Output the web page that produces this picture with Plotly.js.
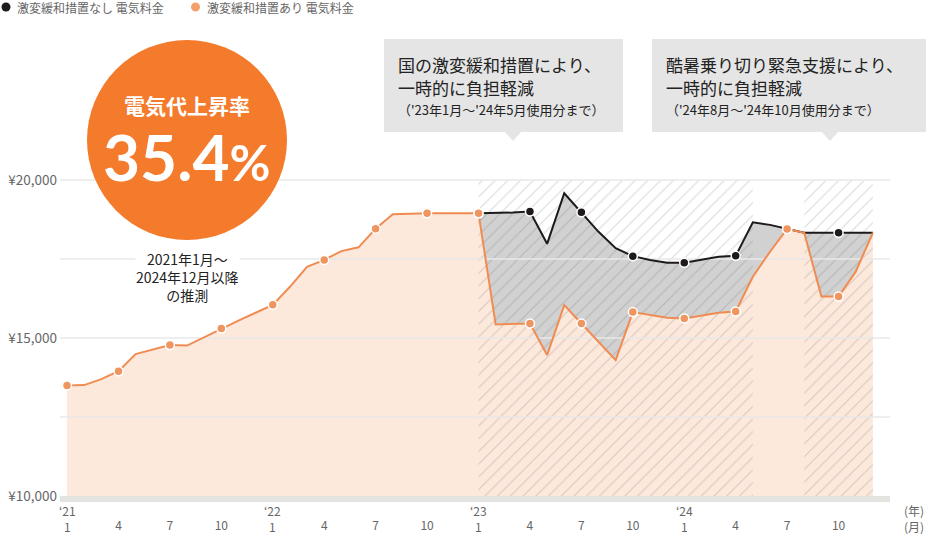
<!DOCTYPE html>
<html>
<head>
<meta charset="utf-8">
<script src="https://cdn.plot.ly/plotly-3.0.1.min.js"></script>
<style>
html,body{margin:0;padding:0;background:#fff;}
#chart{width:927px;height:534px;}
</style>
</head>
<body>
<div id="chart"></div>
<script>
// ---------- DATA ----------
// month index 0 = 2021年1月 ... 47 = 2024年12月
const monthIndex = Array.from({length: 48}, (_, i) => i);
const tickIndex = [0,3,6,9,12,15,18,21,24,27,30,33,36,39,42,45];
const tickMonthLabels = ['1','4','7','10','1','4','7','10','1','4','7','10','1','4','7','10'];
const yearIndex = [0, 12, 24, 36];
const yearLabels = ['‘21', '‘22', '‘23', '‘24'];

// 激変緩和措置あり 電気料金 (円)
const withRelief = [
  13500, 13510, 13700, 13950, 14490, 14640, 14780, 14760, 15030, 15300, 15550, 15800,
  16050, 16620, 17250, 17470, 17750, 17870, 18460, 18920, 18940, 18950, 18950, 18950,
  18950, 15430, 15440, 15460, 14460, 16040, 15460, 14880, 14300, 15820, 15730, 15640,
  15620, 15700, 15800, 15840, 16940, 17730, 18450, 18330, 16310, 16310, 17100, 18330
];
// 激変緩和措置なし 電気料金 (円) — only from 2023年1月
const withoutRelief = [
  null, null, null, null, null, null, null, null, null, null, null, null,
  null, null, null, null, null, null, null, null, null, null, null, null,
  18950, 18950, 18970, 19000, 17980, 19580, 18980, 18360, 17840, 17590, 17470, 17380,
  17380, 17470, 17570, 17600, 18660, 18580, 18450, 18330, 18330, 18330, 18330, 18330
];
// hatched relief periods (month index start / end)
const reliefStart = [24, 43];
const reliefEnd = [40, 47];

const yTickVals = [10000, 15000, 20000];
const yTickText = ['¥10,000', '¥15,000', '¥20,000'];
const gridVals = [12500, 15000, 17500, 20000];

// ---------- LAYOUT HELPERS ----------
const W = 927, H = 534;
const L = 60, R = 890, T = 170, B = 496;
const pxPerYen = 316 / 10000;
const yRange = [10000, 10000 + (B - T) / pxPerYen];
const xRange = [-0.41, 48.0];
const px = x => (x - L) / (R - L);
const py = y => (B - y) / (B - T);

const FONT = '"Noto Sans CJK JP", "Noto Sans", sans-serif';
const ORANGE = '#F08C52';
const ORANGE_DOT = '#EF9560';
const BLACK = '#1e1a1a';

// ---------- TRACES ----------
const idxB = monthIndex.filter(i => withoutRelief[i] !== null);

const hx = [], hy = [];
reliefStart.forEach((s, k) => {
  const e = reliefEnd[k];
  hx.push(s, e, e, s, s, null);
  hy.push(yTickVals[0], yTickVals[0], yTickVals[2], yTickVals[2], yTickVals[0], null);
});

const gx = [], gy = [];
gridVals.forEach(v => { gx.push(xRange[0], xRange[1], null); gy.push(v, v, null); });

const dotIdxO = tickIndex;
const dotIdxB = tickIndex.filter(i => withoutRelief[i] !== null);

// month tick labels: year-start months are drawn together with the year label
const tickTextShown = tickIndex.map((ti, k) => yearIndex.includes(ti) ? '' : tickMonthLabels[k]);

const traces = [
  { // orange area
    x: monthIndex, y: withRelief, type: 'scatter', mode: 'lines',
    line: {width: 0}, fill: 'tozeroy', fillcolor: '#FDE8DC', hoverinfo: 'skip', showlegend: false
  },
  { // base for grey gap
    x: idxB, y: idxB.map(i => withRelief[i]), type: 'scatter', mode: 'lines',
    line: {width: 0, color: 'rgba(0,0,0,0)'}, hoverinfo: 'skip', showlegend: false
  },
  { // grey gap
    x: idxB, y: idxB.map(i => withoutRelief[i]), type: 'scatter', mode: 'lines',
    line: {width: 0, color: 'rgba(0,0,0,0)'}, fill: 'tonexty', fillcolor: '#D1D1D1',
    hoverinfo: 'skip', showlegend: false
  },
  { // hatch
    x: hx, y: hy, type: 'scatter', mode: 'lines', line: {width: 0, color: 'rgba(0,0,0,0)'},
    fill: 'toself', fillcolor: 'rgba(0,0,0,0)',
    fillpattern: {shape: '/', fgcolor: 'rgba(80,80,80,0.22)', bgcolor: 'rgba(0,0,0,0)', size: 9, solidity: 0.12},
    hoverinfo: 'skip', showlegend: false
  },
  { // grid lines
    x: gx, y: gy, type: 'scatter', mode: 'lines', line: {width: 1.5, color: '#e9e9e9'},
    hoverinfo: 'skip', showlegend: false
  },
  { // black line
    x: idxB, y: idxB.map(i => withoutRelief[i]), type: 'scatter', mode: 'lines',
    line: {width: 2, color: BLACK}, showlegend: false
  },
  { // orange line
    x: monthIndex, y: withRelief, type: 'scatter', mode: 'lines',
    line: {width: 2, color: ORANGE}, showlegend: false
  },
  { // black dots
    x: dotIdxB, y: dotIdxB.map(i => withoutRelief[i]), type: 'scatter', mode: 'markers',
    marker: {size: 9, color: BLACK, line: {width: 1.5, color: '#fff'}}, showlegend: false
  },
  { // orange dots
    x: dotIdxO, y: dotIdxO.map(i => withRelief[i]), type: 'scatter', mode: 'markers',
    marker: {size: 9, color: ORANGE_DOT, line: {width: 1.5, color: '#fff'}}, showlegend: false
  }
];

// ---------- SHAPES & ANNOTATIONS ----------
const shapes = [
  // big circle
  {type: 'circle', xref: 'paper', yref: 'paper', x0: px(87), x1: px(287), y0: py(240), y1: py(40),
   fillcolor: '#F47A2C', line: {width: 0}, layer: 'above'},
  // callout box 1
  {type: 'rect', xref: 'paper', yref: 'paper', x0: px(384), x1: px(623), y0: py(132), y1: py(39),
   fillcolor: '#E5E5E5', line: {width: 0}, layer: 'above'},
  {type: 'path', xref: 'paper', yref: 'paper', layer: 'above', fillcolor: '#E5E5E5', line: {width: 0},
   path: `M ${px(504)} ${py(131)} L ${px(522)} ${py(131)} L ${px(513)} ${py(141)} Z`},
  // callout box 2
  {type: 'rect', xref: 'paper', yref: 'paper', x0: px(652), x1: px(926), y0: py(132), y1: py(39),
   fillcolor: '#E5E5E5', line: {width: 0}, layer: 'above'},
  {type: 'path', xref: 'paper', yref: 'paper', layer: 'above', fillcolor: '#E5E5E5', line: {width: 0},
   path: `M ${px(821)} ${py(131)} L ${px(839)} ${py(131)} L ${px(830)} ${py(141)} Z`},
  // legend dots
  {type: 'circle', xref: 'paper', yref: 'paper', x0: px(1.5), x1: px(10.5), y0: py(11.5), y1: py(2.5),
   fillcolor: BLACK, line: {width: 0}, layer: 'above'},
  {type: 'circle', xref: 'paper', yref: 'paper', x0: px(191), x1: px(200), y0: py(11.5), y1: py(2.5),
   fillcolor: '#F4A06C', line: {width: 0}, layer: 'above'}
];

const ann = (text, x, y, size, color, opts = {}) => Object.assign({
  text, x: px(x), y: py(y), xref: 'paper', yref: 'paper', showarrow: false,
  xanchor: 'left', yanchor: 'middle', font: {family: FONT, size, color}
}, opts);

const annotations = [
  ann('激変緩和措置なし 電気料金', 15, 7, 12, '#666'),
  ann('激変緩和措置あり 電気料金', 205, 7, 12, '#666'),
  // circle text
  ann('<b>電気代上昇率</b>', 187, 105, 21, '#fff', {xanchor: 'center'}),
  ann('<b>35.4<span style="font-size:50px">%</span></b>', 187, 156, 64, '#fff',
      {xanchor: 'center', font: {family: 'Lato, "Noto Sans", sans-serif', size: 64, color: '#fff'}}),
  ann('2021年1月～<br>2024年12月以降<br>の推測', 187, 276.5, 14, '#222',
      {xanchor: 'center', bgcolor: '#fff', borderpad: 0}),
  // callout 1
  ann('国の激変緩和措置により、', 396, 64, 17, '#222'),
  ann('一時的に負担軽減', 396, 88, 17, '#222'),
  ann('（\'23年1月～\'24年5月使用分まで）', 396, 110, 13, '#222'),
  // callout 2
  ann('酷暑乗り切り緊急支援により、', 664, 64, 17, '#222'),
  ann('一時的に負担軽減', 664, 88, 17, '#222'),
  ann('（\'24年8月～\'24年10月使用分まで）', 664, 110, 13, '#222'),
  // unit labels
  ann('(年)<br>(月)', 914, 518.5, 12, '#666', {xanchor: 'center', borderpad: 0})
];
yearIndex.forEach((xi, k) => {
  const m = tickMonthLabels[tickIndex.indexOf(xi)];
  annotations.push({text: yearLabels[k] + '<br>' + m, x: xi, y: py(518.5), xref: 'x', yref: 'paper',
    showarrow: false, xanchor: 'center', yanchor: 'middle', borderpad: 0,
    font: {family: FONT, size: 12, color: '#666'}});
});

const layout = {
  width: W, height: H,
  margin: {l: L, r: W - R, t: T, b: H - B, pad: 0},
  paper_bgcolor: '#fff', plot_bgcolor: '#fff',
  showlegend: false,
  font: {family: FONT, color: '#666'},
  xaxis: {
    range: xRange, tickmode: 'array', tickvals: tickIndex, ticktext: tickTextShown,
    showgrid: false, zeroline: false, showline: true, linecolor: '#E3E3DF', linewidth: 6,
    ticks: '', ticklabelstandoff: 14, tickfont: {family: FONT, size: 12, color: '#666'},
    fixedrange: true
  },
  yaxis: {
    range: yRange, tickmode: 'array', tickvals: yTickVals, ticktext: yTickText,
    showgrid: false, zeroline: false, showline: false, ticks: '',
    ticklabelstandoff: 2, tickfont: {family: FONT, size: 13.5, color: '#666'},
    fixedrange: true
  },
  shapes, annotations
};

Plotly.newPlot('chart', traces, layout, {displayModeBar: false, staticPlot: true});
</script>
</body>
</html>
